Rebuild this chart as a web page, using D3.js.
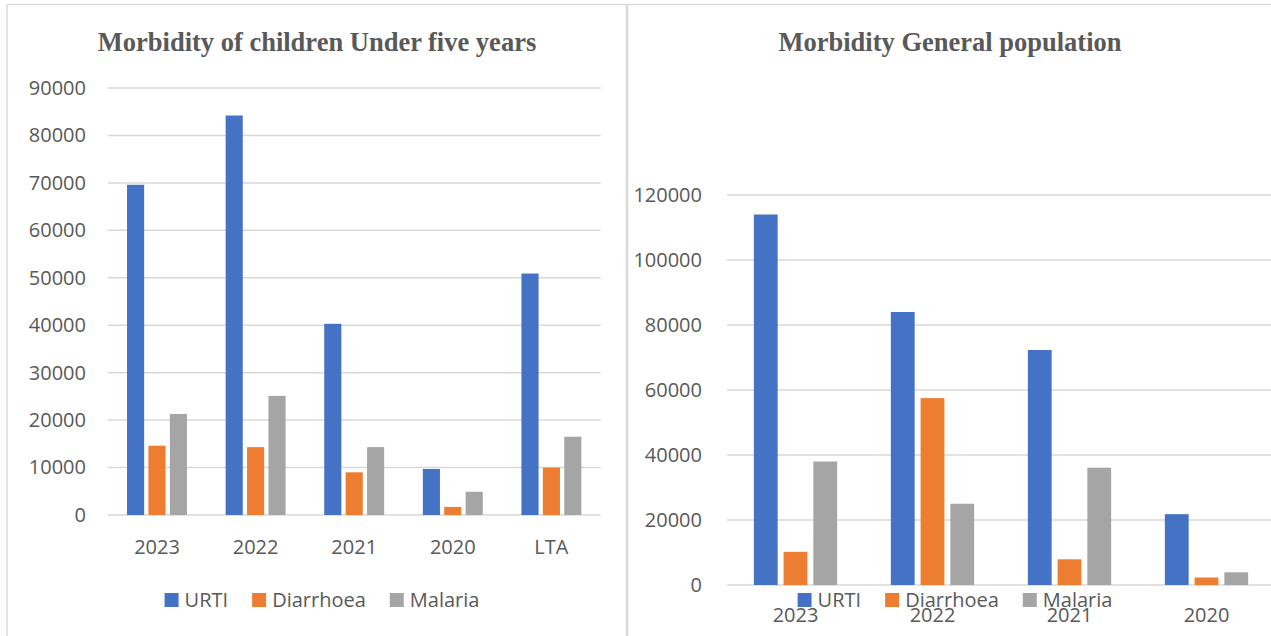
<!DOCTYPE html>
<html>
<head>
<meta charset="utf-8">
<script src="https://cdn.jsdelivr.net/npm/d3@7"></script>
<style>
  body { margin: 0; background: #fff; }
  svg { display: block; }
  .tick text, .lbl { font-family: "Open Sans", sans-serif; fill: #595959; }
  .title { font-family: "Liberation Serif", "Times New Roman", serif; font-weight: bold; fill: #595959; }
</style>
</head>
<body>
<svg width="1271" height="636"></svg>
<script>
// data
var series = ['URTI', 'Diarrhoea', 'Malaria'];
var colors = ['#4472C4', '#ED7D31', '#A5A5A5'];

var childYears = ['2023', '2022', '2021', '2020', 'LTA'];
var childURTI = [69600, 84200, 40300, 9700, 50900];
var childDiarrhoea = [14600, 14300, 9000, 1700, 10000];
var childMalaria = [21300, 25100, 14300, 4900, 16500];
var childTicks = [0, 10000, 20000, 30000, 40000, 50000, 60000, 70000, 80000, 90000];

var genYears = ['2023', '2022', '2021', '2020'];
var genURTI = [114000, 84000, 72300, 21800];
var genDiarrhoea = [10200, 57500, 7900, 2300];
var genMalaria = [38000, 25000, 36100, 3900];
var genTicks = [0, 20000, 40000, 60000, 80000, 100000, 120000];

var svg = d3.select('svg');

// panel borders
var frame = svg.append('g').attr('stroke', '#d9d9d9').attr('fill', 'none').attr('stroke-width', 1.5);
frame.append('line').attr('x1', 7).attr('x2', 1271).attr('y1', 4.5).attr('y2', 4.5);
frame.append('line').attr('x1', 7).attr('x2', 7).attr('y1', 4.5).attr('y2', 636);
frame.append('line').attr('x1', 627).attr('x2', 627).attr('y1', 4.5).attr('y2', 636).attr('stroke-width', 2.5);

function chart(cfg) {
  var g = svg.append('g');
  var y = d3.scaleLinear().domain([cfg.ticks[0], cfg.ticks[cfg.ticks.length - 1]]).range([cfg.bottom, cfg.top]);
  var x0 = d3.scaleBand().domain(cfg.cats).range([cfg.left, cfg.left + cfg.band * cfg.cats.length]);
  var bw = x0.bandwidth();
  var x1 = d3.scaleBand().domain(series).range([bw * 0.196, bw * 0.804]).paddingInner(0.2);

  // gridlines
  g.append('g').selectAll('line').data(cfg.ticks).enter().append('line')
    .attr('x1', cfg.left).attr('x2', cfg.gridRight)
    .attr('y1', function(d) { return y(d); }).attr('y2', function(d) { return y(d); })
    .attr('stroke', '#d9d9d9').attr('stroke-width', 1.5);

  // y axis labels
  var ya = g.append('g').attr('transform', 'translate(' + cfg.labelRight + ',0)')
    .call(d3.axisLeft(y).tickValues(cfg.ticks).tickSize(0).tickPadding(0).tickFormat(d3.format('d')));
  ya.select('.domain').remove();
  ya.selectAll('text').style('font-size', '20px');

  // bars
  var rows = cfg.cats.map(function(c, i) {
    return { cat: c, vals: cfg.values.map(function(v) { return v[i]; }) };
  });
  g.append('g').selectAll('g').data(rows).enter().append('g')
    .attr('transform', function(d) { return 'translate(' + x0(d.cat) + ',0)'; })
    .selectAll('rect').data(function(d) { return d.vals; }).enter().append('rect')
    .attr('x', function(d, i) { return x1(series[i]); })
    .attr('width', x1.bandwidth())
    .attr('y', function(d) { return y(d); })
    .attr('height', function(d) { return y(0) - y(d); })
    .attr('fill', function(d, i) { return colors[i]; });

  // x axis labels
  var xa = g.append('g').attr('transform', 'translate(0,' + cfg.catY + ')')
    .call(d3.axisBottom(x0).tickSize(0).tickPadding(0));
  xa.select('.domain').remove();
  xa.selectAll('text').style('font-size', '20px').attr('dy', '0.35em');

  // title
  g.append('text').attr('class', 'title').attr('x', cfg.titleX).attr('y', 51)
    .attr('text-anchor', 'middle').style('font-size', '26.5px').text(cfg.title);

  // legend
  var lg = g.append('g');
  var items = lg.selectAll('g').data(series).enter().append('g');
  items.append('rect').attr('width', 14).attr('height', 14).attr('y', cfg.legendY - 7)
    .attr('fill', function(d, i) { return colors[i]; });
  items.append('text').attr('class', 'lbl').attr('x', 20).attr('y', cfg.legendY).attr('dy', '0.35em')
    .style('font-size', '20px').text(function(d) { return d; });
  var pos = 0;
  items.each(function() {
    var w = this.getBBox().width;
    d3.select(this).attr('transform', 'translate(' + pos + ',0)');
    pos += w + 24;
  });
  var total = pos - 24;
  lg.attr('transform', 'translate(' + (cfg.legendX - total / 2) + ',0)');
}

chart({
  title: 'Morbidity of children Under five years', titleX: 317,
  cats: childYears, values: [childURTI, childDiarrhoea, childMalaria], ticks: childTicks,
  left: 107.7, band: 98.6, gridRight: 600.7, top: 88, bottom: 515, labelRight: 86,
  catY: 547, legendX: 322, legendY: 600
});

chart({
  title: 'Morbidity General population', titleX: 950,
  cats: genYears, values: [genURTI, genDiarrhoea, genMalaria], ticks: genTicks,
  left: 727, band: 137, gridRight: 1275, top: 195, bottom: 585, labelRight: 702,
  catY: 615, legendX: 955, legendY: 600
});
</script>
</body>
</html>
